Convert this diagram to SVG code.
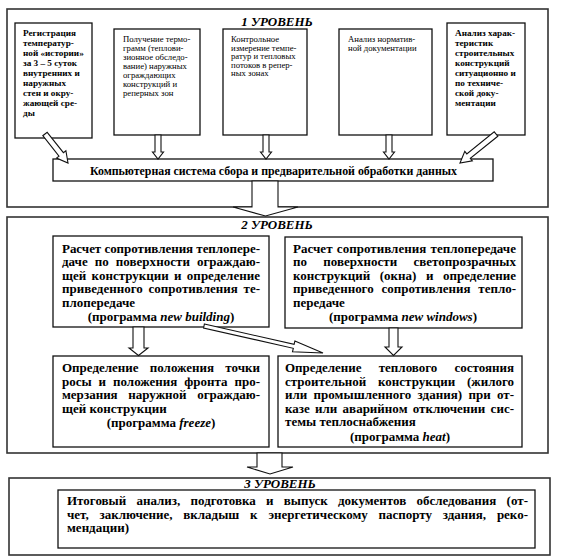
<svg xmlns="http://www.w3.org/2000/svg" width="563" height="560" viewBox="0 0 563 560" font-family="Liberation Serif, serif">
<style>
.frame{fill:none;stroke:#333;stroke-width:1.6}
.box{fill:#fff;stroke:#111;stroke-width:1.3}
.arr{fill:#fff;stroke:#111;stroke-width:1.1;stroke-linejoin:miter}
.s{font-size:8.7px}
.m{font-size:9.2px;font-weight:bold}
.l{font-size:13px;font-weight:bold}
.k{font-size:11.9px;font-weight:bold}
.h{font-size:13px;font-weight:bold;font-style:italic}
.c{text-anchor:middle}
.i{font-style:italic}
</style>
<rect width="563" height="560" fill="#fff"/>

<g id="level1">
<rect class="frame" x="7" y="9" width="541" height="198"/>
<text class="h c" x="277" y="26" font-style="italic">1 УРОВЕНЬ</text>
</g>
<g id="level2">
<rect class="frame" x="7" y="217" width="541" height="236"/>
<text class="h c" x="277" y="229" font-style="italic">2 УРОВЕНЬ</text>
</g>
<g id="level3">
<rect class="frame" x="9" y="478" width="541" height="77"/>
<text class="h c" x="280" y="487.5" font-style="italic">3 УРОВЕНЬ</text>
</g>

<g id="n1">
<rect class="box" x="15" y="23" width="77" height="115"/>
<text class="m"><tspan x="23" y="36">Регистрация</tspan><tspan x="23" y="46">температур-</tspan><tspan x="23" y="56">ной «истории»</tspan><tspan x="23" y="66">за 3 – 5 суток</tspan><tspan x="23" y="76">внутренних и</tspan><tspan x="23" y="86">наружных</tspan><tspan x="23" y="96">стен и окру-</tspan><tspan x="23" y="106">жающей сре-</tspan><tspan x="23" y="116">ды</tspan></text>
</g>
<g id="n2">
<rect class="box" x="114" y="29" width="86" height="106"/>
<text class="s"><tspan x="123" y="42">Получение термо-</tspan><tspan x="123" y="51">грамм (теплови-</tspan><tspan x="123" y="60">зионное обследо-</tspan><tspan x="123" y="69">вание) наружных</tspan><tspan x="123" y="78">ограждающих</tspan><tspan x="123" y="87">конструкций и</tspan><tspan x="123" y="96">реперных зон</tspan></text>
</g>
<g id="n3">
<rect class="box" x="223" y="29" width="84" height="106"/>
<text class="s"><tspan x="231" y="42">Контрольное</tspan><tspan x="231" y="50.5">измерение темпе-</tspan><tspan x="231" y="59">ратур и тепловых</tspan><tspan x="231" y="67.5">потоков в репер-</tspan><tspan x="231" y="76">ных зонах</tspan></text>
</g>
<g id="n4">
<rect class="box" x="339" y="29" width="93" height="106"/>
<text class="s"><tspan x="348" y="42">Анализ норматив-</tspan><tspan x="348" y="50.5">ной документации</tspan></text>
</g>
<g id="n5">
<rect class="box" x="447" y="23" width="78" height="112"/>
<text class="m"><tspan x="455" y="36">Анализ харак-</tspan><tspan x="455" y="46">теристик</tspan><tspan x="455" y="56">строительных</tspan><tspan x="455" y="66">конструкций</tspan><tspan x="455" y="76">ситуационно и</tspan><tspan x="455" y="86">по техниче-</tspan><tspan x="455" y="96">ской доку-</tspan><tspan x="455" y="106">ментации</tspan></text>
</g>
<g id="n6">
<rect class="box" x="53" y="159" width="440" height="22"/>
<text class="k c" x="273.5" y="175" textLength="367" lengthAdjust="spacing">Компьютерная система сбора и предварительной обработки данных</text>
</g>

<g id="nA">
<rect class="box" x="53" y="236" width="216" height="91"/>
<text class="l" x="62" y="252.5" textLength="198" lengthAdjust="spacing">Расчет сопротивления теплопере-</text>
<text class="l" x="62" y="266" word-spacing="3.7" textLength="198" lengthAdjust="spacing">даче по поверхности ограждаю-</text>
<text class="l" x="62" y="279.5" word-spacing="2" textLength="198" lengthAdjust="spacing">щей конструкции и определение</text>
<text class="l" x="62" y="293" word-spacing="2.5" textLength="198" lengthAdjust="spacing">приведенного сопротивления те-</text>
<text class="l" x="62" y="306.5">плопередаче</text>
<text class="l c" x="161" y="321">(программа <tspan class="i" font-style="italic">new building</tspan>)</text>
</g>
<g id="nB">
<rect class="box" x="285" y="237" width="237" height="91"/>
<text class="l" x="293" y="252.5" word-spacing="1" textLength="223" lengthAdjust="spacing">Расчет сопротивления теплопередаче</text>
<text class="l" x="293" y="266" word-spacing="13" textLength="223" lengthAdjust="spacing">по поверхности светопрозрачных</text>
<text class="l" x="293" y="279.5" word-spacing="6.3" textLength="223" lengthAdjust="spacing">конструкций (окна) и определение</text>
<text class="l" x="293" y="293" word-spacing="4.5" textLength="223" lengthAdjust="spacing">приведенного сопротивления тепло-</text>
<text class="l" x="293" y="306.5">передаче</text>
<text class="l c" x="403" y="321">(программа <tspan class="i" font-style="italic">new windows</tspan>)</text>
</g>
<g id="nC">
<rect class="box" x="53" y="356" width="216" height="91"/>
<text class="l" x="62" y="372" word-spacing="8" textLength="198" lengthAdjust="spacing">Определение положения точки</text>
<text class="l" x="62" y="385.5" word-spacing="3.75" textLength="198" lengthAdjust="spacing">росы и положения фронта про-</text>
<text class="l" x="62" y="399" word-spacing="7.5" textLength="198" lengthAdjust="spacing">мерзания наружной ограждаю-</text>
<text class="l" x="62" y="412.5">щей конструкции</text>
<text class="l c" x="161" y="426.5">(программа <tspan class="i" font-style="italic">freeze</tspan>)</text>
</g>
<g id="nD">
<rect class="box" x="278" y="356" width="244" height="91"/>
<text class="l" x="285" y="372" word-spacing="14" textLength="229" lengthAdjust="spacing">Определение теплового состояния</text>
<text class="l" x="285" y="385.5" word-spacing="8.5" textLength="229" lengthAdjust="spacing">строительной конструкции (жилого</text>
<text class="l" x="285" y="399" word-spacing="3" textLength="229" lengthAdjust="spacing">или промышленного здания) при от-</text>
<text class="l" x="285" y="412.5" word-spacing="2" textLength="229" lengthAdjust="spacing">казе или аварийном отключении сис-</text>
<text class="l" x="285" y="426">темы теплоснабжения</text>
<text class="l c" x="400" y="440.5">(программа <tspan class="i" font-style="italic">heat</tspan>)</text>
</g>
<g id="nE">
<rect class="box" x="58" y="490" width="477" height="58"/>
<text class="l" x="67" y="505" word-spacing="7" textLength="461" lengthAdjust="spacing">Итоговый анализ, подготовка и выпуск документов обследования (от-</text>
<text class="l" x="67" y="518.5" word-spacing="7.6" textLength="461" lengthAdjust="spacing">чет, заключение, вкладыш к энергетическому паспорту здания, реко-</text>
<text class="l" x="67" y="532">мендации)</text>
</g>

<g id="connectors">
<polygon class="arr" points="47.2,132.3 63.4,152.7 65.9,150.7 68,163 56.5,158.1 59,156.1 42.8,135.7"/>
<polygon class="arr" points="155,135 155,152 152.5,152 158,159 163.5,152 161,152 161,135"/>
<polygon class="arr" points="263,135 263,152 260.5,152 266,159 271.5,152 269,152 269,135"/>
<polygon class="arr" points="386,135 386,152 383.5,152 389,159 394.5,152 392,152 392,135"/>
<polygon class="arr" points="497.8,136.2 470.3,158.3 472.3,160.8 460,163 464.8,151.4 466.8,153.9 494.2,131.8"/>
<polygon class="arr" points="252,181 252,207 233,207 265.5,216 298,207 278,207 278,181"/>
<polygon class="arr" points="133,327 133,348 129,348 138.5,355.5 148,348 144,348 144,327"/>
<polygon class="arr" points="389,328 389,347 385,347 393.5,355.5 402,347 398,347 398,328"/>
<polygon class="arr" points="204.4,324 294.1,344.4 294.9,341 323,353 292.5,351.8 293.3,348.3 203.6,328"/>
<polygon class="arr" points="257,453 257,467 247,467 270,474 293,467 282,467 282,453"/>
</g>
</svg>
